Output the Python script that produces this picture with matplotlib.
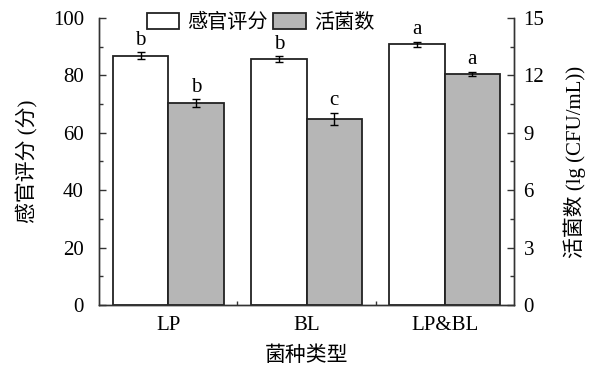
import numpy as np
import matplotlib
matplotlib.use("Agg")
import matplotlib.pyplot as plt
from matplotlib.ticker import MultipleLocator, FixedLocator

plt.rcParams['font.family'] = ['Liberation Serif', 'Noto Sans CJK SC']
plt.rcParams['font.size'] = 15

strains = ["LP", "BL", "LP&BL"]
sensory = [86.8, 85.8, 90.8]
sensory_err = [1.2, 1.0, 1.0]
sensory_sig = ["b", "b", "a"]
counts = [10.57, 9.74, 12.09]
counts_err = [0.2, 0.31, 0.1]
counts_sig = ["b", "c", "a"]

edge = "#222222"
gray = "#b6b6b6"

fig = plt.figure(figsize=(5.9, 3.67), dpi=100)
ax = fig.add_axes([0.168, 0.169, 0.703, 0.782])
ax2 = ax.twinx()

x = np.arange(len(strains))
w = 0.4

b1 = ax.bar(x - w / 2, sensory, w, color="white", edgecolor=edge, linewidth=1.3,
            yerr=sensory_err, capsize=3, error_kw=dict(elinewidth=1, capthick=1, ecolor="black"),
            label="感官评分")
b2 = ax2.bar(x + w / 2, counts, w, color=gray, edgecolor=edge, linewidth=1.3,
             yerr=counts_err, capsize=3, error_kw=dict(elinewidth=1, capthick=1, ecolor="black"),
             label="活菌数")

# significance letters
for xi, v, e, s in zip(x - w / 2, sensory, sensory_err, sensory_sig):
    ax.text(xi, v + e + 0.8, s, ha="center", va="bottom", fontsize=15)
for xi, v, e, s in zip(x + w / 2, counts, counts_err, counts_sig):
    ax2.text(xi, v + e + 0.12, s, ha="center", va="bottom", fontsize=15)

ax.set_xlim(-0.5, 2.5)
ax.set_ylim(0, 100)
ax2.set_ylim(0, 15)

ax.set_xticks(x, strains)
ax.xaxis.set_minor_locator(FixedLocator([0.5, 1.5]))
ax.yaxis.set_major_locator(MultipleLocator(20))
ax.yaxis.set_minor_locator(MultipleLocator(10))
ax2.yaxis.set_major_locator(MultipleLocator(3))
ax2.yaxis.set_minor_locator(MultipleLocator(1.5))

for a in (ax, ax2):
    a.spines["top"].set_visible(False)
    for sp in a.spines.values():
        sp.set_color("#333333")
        sp.set_linewidth(1.0)

ax.tick_params(axis="y", which="major", direction="in", length=5, width=1, colors="#333333",
               labelcolor="black", pad=11)
ax.tick_params(axis="y", which="minor", direction="in", length=3, width=1, colors="#333333")
ax.tick_params(axis="x", which="major", length=0, pad=8)
ax.tick_params(axis="x", which="minor", direction="in", length=3, width=1, colors="#333333")
ax2.tick_params(axis="y", which="major", direction="in", length=5, width=1, colors="#333333",
                labelcolor="black", pad=7)
ax2.tick_params(axis="y", which="minor", direction="in", length=3, width=1, colors="#333333")

ax.set_xlabel("菌种类型", labelpad=8)
ax.set_ylabel("感官评分 (分)", labelpad=10)
ax2.set_ylabel("活菌数 (lg (CFU/mL))", rotation=90, labelpad=14)

ax.legend([b1, b2], ["感官评分", "活菌数"], loc="upper left", bbox_to_anchor=(0.095, 1.045),
          ncol=2, frameon=False, fontsize=14.5, handlelength=1.6, handleheight=0.8,
          columnspacing=0.3, handletextpad=0.4, borderaxespad=0)

fig.savefig("out.png", dpi=100)
